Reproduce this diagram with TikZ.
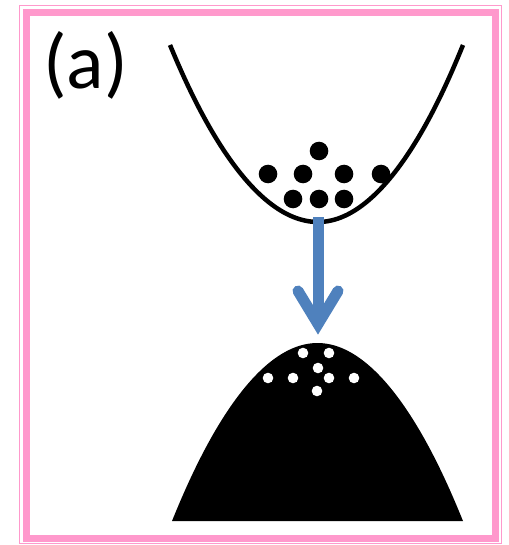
\documentclass[tikz,border=0pt]{standalone}
\usepackage{fontspec}
\setmainfont{Carlito}
\begin{document}
\begin{tikzpicture}[x=1pt,y=-1pt,
  framecol/.style={draw=pinkframe},
  ebig/.style={fill=black},
  hole/.style={fill=white},
  bluearrow/.style={draw=arrowblue,line width=11pt}]
\definecolor{pinkframe}{RGB}{255,153,204}
\definecolor{arrowblue}{RGB}{79,129,189}
\useasboundingbox (0,0) rectangle (508,545);
% frame
\draw[framecol,line width=1.5pt] (19.5,5.5) rectangle (501.5,543.5);
\draw[framecol,line width=7pt] (26.5,12.5) rectangle (495,538.5);
% label
\node[font=\fontsize{78}{80}\selectfont,anchor=base west,inner sep=0pt] (lbl) at (43,89) {(a)};
% conduction band
\draw[line width=4.5pt] (170,45) parabola bend (318,222) (463,45);
\coordinate (cbmin) at (318,217);
% electrons
\foreach \p in {(319,151),(268,174),(303,174),(344,174),(381,174),(293,199),(319,199),(344,199)}
  \fill[ebig] \p circle (9.3);
% valence band
\fill (172,521) parabola bend (317.5,343) (463,521) -- cycle;
\coordinate (vbmax) at (318,324);
% holes
\foreach \p in {(303,353),(329,353),(318,368),(268,378),(293,378),(329,378),(354,378),(317,391)}
  \fill[hole] \p circle (5.3);
% arrow
\draw[bluearrow,line cap=butt] (cbmin) -- (vbmax);
\draw[bluearrow,line cap=round,line join=miter] ([xshift=-20pt,yshift=33pt]vbmax) -- (vbmax) -- ([xshift=20pt,yshift=33pt]vbmax);
\end{tikzpicture}
\end{document}
